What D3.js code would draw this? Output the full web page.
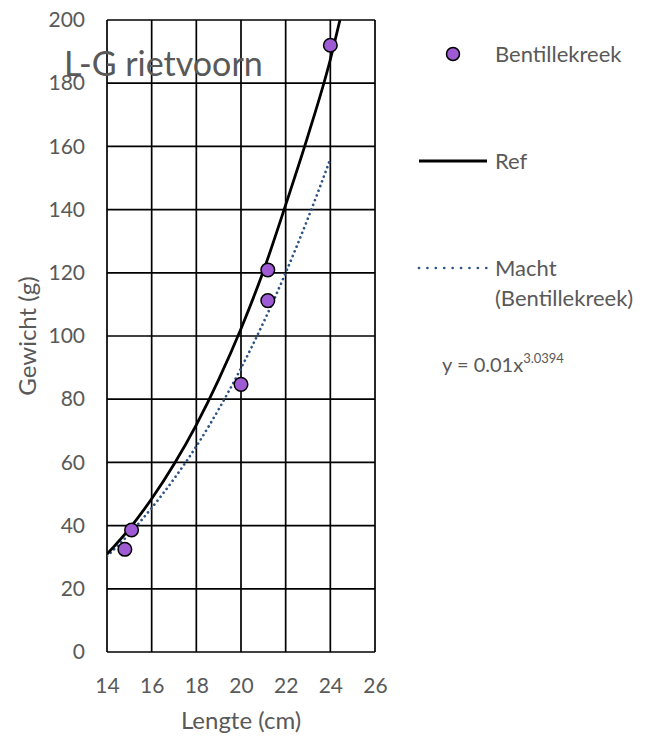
<!DOCTYPE html>
<html>
<head>
<meta charset="utf-8">
<script src="https://cdn.jsdelivr.net/npm/d3@7"></script>
<style>
  html, body { margin: 0; padding: 0; background: #fff; }
  svg { display: block; }
  text { font-family: Lato, "Open Sans", sans-serif; fill: #595959; }
</style>
</head>
<body>
<svg id="chart" width="651" height="740"></svg>
<script>
// ---- data ----
const xTickValues = [14, 16, 18, 20, 22, 24, 26];
const yTickValues = [0, 20, 40, 60, 80, 100, 120, 140, 160, 180, 200];

const lengths = [14.8, 15.1, 20.0, 21.2, 21.2, 24.0];      // Lengte (cm)
const weights = [32.5, 38.6, 84.7, 120.9, 111.2, 192.0];   // Gewicht (g)

const refLengths = [14, 15, 16, 17, 18, 19, 20, 21, 22, 23, 24, 24.43];
const refWeights = [31.0, 39.0, 48.5, 59.4, 71.9, 86.2, 102.3, 120.5, 141.5, 163.4, 187.5, 200];

const machtLengths = [14, 15, 16, 17, 18, 19, 20, 21, 22, 23, 24];
const machtWeights = [30.3, 37.4, 45.6, 54.8, 65.1, 76.8, 89.8, 104.2, 120.0, 137.3, 156.0];

const chartTitle = "L-G rietvoorn";
const xTitle = "Lengte (cm)";
const yTitle = "Gewicht (g)";
const seriesName = "Bentillekreek";
const refName = "Ref";
const trendNameLines = ["Macht", "(Bentillekreek)"];
const eqBase = "y = 0.01x";
const eqExp = "3.0394";

// ---- layout ----
const svg = d3.select("#chart");
const plot = { left: 107, right: 375, top: 20, bottom: 652 };

const x = d3.scaleLinear().domain([14, 26]).range([plot.left, plot.right]);
const y = d3.scaleLinear().domain([0, 200]).range([plot.bottom, plot.top]);

svg.append("defs").append("clipPath").attr("id", "clip")
  .append("rect")
  .attr("x", plot.left).attr("y", plot.top)
  .attr("width", plot.right - plot.left).attr("height", plot.bottom - plot.top);

// gridlines
const grid = svg.append("g");
grid.selectAll("line.v").data(xTickValues).join("line")
  .attr("x1", d => x(d)).attr("x2", d => x(d))
  .attr("y1", plot.top).attr("y2", plot.bottom)
  .attr("stroke", "#000").attr("stroke-width", 1.7);
grid.selectAll("line.h").data(yTickValues).join("line")
  .attr("x1", plot.left).attr("x2", plot.right)
  .attr("y1", d => y(d)).attr("y2", d => y(d))
  .attr("stroke", "#000").attr("stroke-width", 1.7);

// axes (labels only)
const xAxis = d3.axisBottom(x).tickValues(xTickValues).tickSize(0).tickPadding(26);
const gx = svg.append("g").attr("transform", `translate(0,${plot.bottom})`).call(xAxis);
gx.select(".domain").remove();
gx.selectAll("text").style("font-size", "21px").style("font-family", "Lato, sans-serif").attr("fill", "#595959");

const yAxis = d3.axisLeft(y).tickValues(yTickValues).tickSize(0).tickPadding(22);
const gy = svg.append("g").attr("transform", `translate(${plot.left},0)`).call(yAxis);
gy.select(".domain").remove();
gy.selectAll("text").style("font-size", "21px").style("font-family", "Lato, sans-serif").attr("fill", "#595959");

// axis titles
svg.append("text").attr("x", (plot.left + plot.right) / 2).attr("y", 729)
  .attr("text-anchor", "middle").style("font-size", "24px").text(xTitle);
svg.append("text").attr("transform", `translate(36,${(plot.top + plot.bottom) / 2}) rotate(-90)`)
  .attr("text-anchor", "middle").style("font-size", "24px").text(yTitle);

// curves
const line = d3.line().x(d => x(d[0])).y(d => y(d[1])).curve(d3.curveMonotoneX);
const lines = svg.append("g").attr("clip-path", "url(#clip)");

lines.append("path")
  .datum(machtLengths.map((l, i) => [l, machtWeights[i]]))
  .attr("d", line).attr("fill", "none")
  .attr("stroke", "#2E5486").attr("stroke-width", 2.7)
  .attr("stroke-dasharray", "0.01 5").attr("stroke-linecap", "round");

lines.append("path")
  .datum(refLengths.map((l, i) => [l, refWeights[i]]))
  .attr("d", line).attr("fill", "none")
  .attr("stroke", "#000").attr("stroke-width", 2.8);

// points
svg.append("g").selectAll("circle")
  .data(lengths.map((l, i) => [l, weights[i]]))
  .join("circle")
  .attr("cx", d => x(d[0])).attr("cy", d => y(d[1])).attr("r", 6.8)
  .attr("fill", "#9E5BD3").attr("stroke", "#000").attr("stroke-width", 1.5);

// title
svg.append("text").attr("x", 64).attr("y", 76).style("font-size", "34px").text(chartTitle);

// legend
const lg = svg.append("g");
lg.append("circle").attr("cx", 453).attr("cy", 54).attr("r", 6.5)
  .attr("fill", "#9E5BD3").attr("stroke", "#000").attr("stroke-width", 1.5);
lg.append("text").attr("x", 495).attr("y", 54).attr("dy", "0.35em").style("font-size", "22px").text(seriesName);

lg.append("line").attr("x1", 419).attr("x2", 487).attr("y1", 161).attr("y2", 161)
  .attr("stroke", "#000").attr("stroke-width", 3);
lg.append("text").attr("x", 495).attr("y", 161).attr("dy", "0.35em").style("font-size", "22px").text(refName);

lg.append("line").attr("x1", 419).attr("x2", 487).attr("y1", 268).attr("y2", 268)
  .attr("stroke", "#2E5486").attr("stroke-width", 2.7)
  .attr("stroke-dasharray", "0.01 8.4").attr("stroke-linecap", "round");
trendNameLines.forEach((t, i) => {
  lg.append("text").attr("x", 495).attr("y", 268 + i * 30).attr("dy", "0.35em")
    .style("font-size", "22px").text(t);
});

const eq = lg.append("text").attr("x", 442).attr("y", 372).style("font-size", "20px");
eq.append("tspan").text(eqBase);
eq.append("tspan").attr("dy", -9).style("font-size", "13px").text(eqExp);
</script>
</body>
</html>
